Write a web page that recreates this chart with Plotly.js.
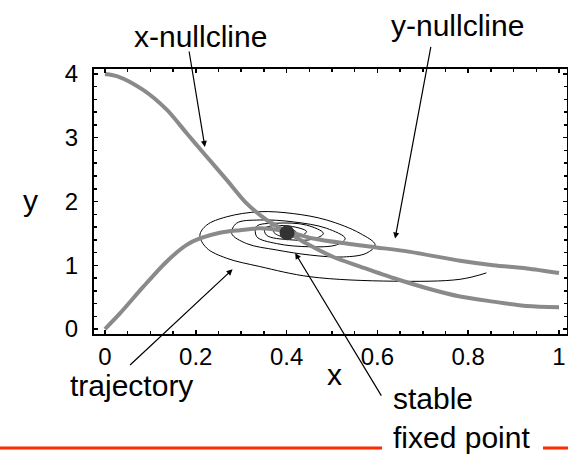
<!DOCTYPE html>
<html>
<head>
<meta charset="utf-8">
<script src="https://cdn.plot.ly/plotly-3.0.1.min.js"></script>
<style>html,body{margin:0;padding:0;background:#fff;}#chart{width:568px;height:454px;}</style>
</head>
<body>
<div id="chart"></div>
<script>
// x-nullcline (decreasing curve)
const xNullX = [0, 0.029, 0.084, 0.136, 0.18, 0.217, 0.268, 0.312, 0.356, 0.40, 0.444, 0.503, 0.562, 0.635, 0.709, 0.782, 0.855, 0.929, 1.0];
const xNullY = [4.0, 3.96, 3.75, 3.44, 3.07, 2.76, 2.34, 1.97, 1.71, 1.53, 1.34, 1.13, 0.98, 0.80, 0.64, 0.51, 0.43, 0.36, 0.34];
// y-nullcline (rise then slow decay)
const yNullX = [0, 0.033, 0.084, 0.136, 0.18, 0.209, 0.253, 0.297, 0.341, 0.40, 0.459, 0.532, 0.598, 0.672, 0.782, 0.855, 0.929, 1.0];
const yNullY = [0.0, 0.245, 0.66, 1.06, 1.32, 1.42, 1.51, 1.55, 1.58, 1.53, 1.42, 1.34, 1.28, 1.21, 1.07, 1.0, 0.95, 0.88];
// trajectory spiralling into the fixed point
const trajX = [0.84, 0.782, 0.635, 0.452, 0.341, 0.268, 0.224, 0.209, 0.224, 0.268, 0.341, 0.415, 0.488, 0.562, 0.595, 0.576, 0.525, 0.452, 0.378, 0.312, 0.279, 0.290, 0.341, 0.415, 0.488, 0.529, 0.51, 0.452, 0.378, 0.334, 0.334, 0.378, 0.444, 0.481, 0.459, 0.407, 0.356, 0.352, 0.40, 0.444, 0.43, 0.385, 0.371, 0.40, 0.42, 0.41, 0.39, 0.395, 0.401];
const trajY = [0.88, 0.78, 0.75, 0.82, 0.98, 1.11, 1.27, 1.47, 1.63, 1.76, 1.84, 1.81, 1.71, 1.50, 1.32, 1.19, 1.13, 1.16, 1.24, 1.34, 1.50, 1.66, 1.71, 1.68, 1.58, 1.42, 1.32, 1.29, 1.34, 1.45, 1.61, 1.66, 1.63, 1.50, 1.41, 1.40, 1.47, 1.58, 1.62, 1.53, 1.46, 1.46, 1.53, 1.57, 1.53, 1.49, 1.49, 1.52, 1.51];
// stable fixed point
const fixedX = [0.401];
const fixedY = [1.51];

// arrow heads (data) for the labels
const arrowHeadX = [0.220, 0.639, 0.281, 0.419];
const arrowHeadY = [2.855, 1.42, 0.936, 1.19];
const labelTexts = ['x-nullcline', 'y-nullcline', 'trajectory', 'stable<br>fixed point'];
const axisTitles = ['x', 'y'];

const W = 568, H = 454;
const M = {l: 94, r: 1, t: 69, b: 120};
const PW = W - M.l - M.r, PH = H - M.t - M.b;
const px = v => (v - M.l) / PW;           // pixel x -> paper
const py = v => (H - M.b - v) / PH;       // pixel y -> paper

const FONT = 'Liberation Sans, Arial, sans-serif';

const traces = [
  {x: trajX, y: trajY, mode: 'lines', line: {color: '#000', width: 1, shape: 'spline', smoothing: 1}, hoverinfo: 'skip'},
  {x: xNullX, y: xNullY, mode: 'lines', line: {color: '#8a8a8a', width: 4, shape: 'spline', smoothing: 0.8}, hoverinfo: 'skip'},
  {x: yNullX, y: yNullY, mode: 'lines', line: {color: '#8a8a8a', width: 4, shape: 'spline', smoothing: 0.8}, hoverinfo: 'skip'},
  {x: fixedX, y: fixedY, mode: 'markers', marker: {color: '#333', size: 15}, hoverinfo: 'skip'}
];

const axisCommon = {
  showline: true, linecolor: '#000', linewidth: 2, mirror: 'allticks',
  ticks: 'inside', ticklen: 4, tickwidth: 1.5, tickcolor: '#000',
  showgrid: false, zeroline: false,
  tickfont: {family: FONT, size: 24, color: '#000'}
};

const arrowOffsets = [[-16, -97], [36, -193], [-104, 97], [87, 144]];
const annotations = [];
for (let i = 0; i < arrowHeadX.length; i++) {
  annotations.push({
    x: arrowHeadX[i], y: arrowHeadY[i], xref: 'x', yref: 'y',
    ax: arrowOffsets[i][0], ay: arrowOffsets[i][1],
    text: '', showarrow: true, arrowhead: 2, arrowsize: 1, arrowwidth: 1.2, arrowcolor: '#000'
  });
}
const labelFont = {family: FONT, size: 30, color: '#000'};
annotations.push({xref: 'paper', yref: 'paper', x: px(200), y: py(36), text: labelTexts[0], showarrow: false, xanchor: 'center', yanchor: 'middle', font: labelFont});
annotations.push({xref: 'paper', yref: 'paper', x: px(457), y: py(25), text: labelTexts[1], showarrow: false, xanchor: 'center', yanchor: 'middle', font: labelFont});
annotations.push({xref: 'paper', yref: 'paper', x: px(131), y: py(385), text: labelTexts[2], showarrow: false, xanchor: 'center', yanchor: 'middle', font: labelFont});
annotations.push({xref: 'paper', yref: 'paper', x: px(391), y: py(418), text: labelTexts[3], showarrow: false, xanchor: 'left', yanchor: 'middle', align: 'left', font: labelFont});
// axis titles, drawn upright as in the reference
annotations.push({xref: 'paper', yref: 'paper', x: px(334), y: py(374), text: axisTitles[0], showarrow: false, xanchor: 'center', yanchor: 'middle', font: labelFont});
annotations.push({xref: 'paper', yref: 'paper', x: px(30), y: py(200), text: axisTitles[1], showarrow: false, xanchor: 'center', yanchor: 'middle', font: labelFont});

const layout = {
  width: W, height: H,
  margin: M,
  paper_bgcolor: '#fff', plot_bgcolor: '#fff',
  showlegend: false,
  xaxis: Object.assign({}, axisCommon, {
    range: [-0.0242, 1.0176], dtick: 0.2, tick0: 0, ticklabelstandoff: 0,
    minor: {dtick: 0.05, ticks: 'inside', ticklen: 3, tickwidth: 1.5, tickcolor: '#000'}
  }),
  yaxis: Object.assign({}, axisCommon, {
    range: [-0.078, 4.078], dtick: 1, tick0: 0, ticklabelstandoff: 9,
    minor: {dtick: 0.2, ticks: 'inside', ticklen: 3, tickwidth: 1.5, tickcolor: '#000'}
  }),
  annotations: annotations,
  shapes: [
    {type: 'line', xref: 'paper', yref: 'paper', x0: px(0), x1: px(382), y0: py(448), y1: py(448), line: {color: '#ff2a00', width: 3}},
    {type: 'line', xref: 'paper', yref: 'paper', x0: px(543), x1: px(568), y0: py(448), y1: py(448), line: {color: '#ff2a00', width: 3}}
  ]
};

Plotly.newPlot('chart', traces, layout, {displayModeBar: false, staticPlot: true});
</script>
</body>
</html>
